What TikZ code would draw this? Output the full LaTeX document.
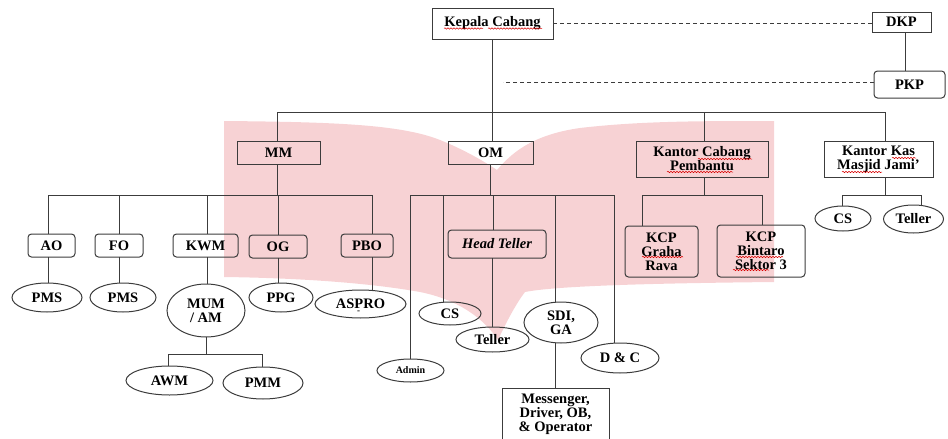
\documentclass[tikz,border=0pt]{standalone}
\usepackage{fontspec}
\setmainfont{Liberation Serif}
\usetikzlibrary{shapes.geometric,decorations.pathmorphing}
\definecolor{pinkbg}{RGB}{247,210,212}
\definecolor{ln}{RGB}{60,60,60}
\begin{document}
\begin{tikzpicture}[x=1pt,y=-1pt,
  every node/.style={inner sep=0pt, outer sep=0pt, align=center, font=\fontsize{14.5}{14}\selectfont\bfseries, text=black},
  sqbox/.style={draw=ln, line width=1pt, rectangle},
  rbox/.style={sqbox, rounded corners=3.5pt},
  ell/.style={draw=ln, line width=1pt, ellipse},
  conn/.style={draw=ln, line width=1pt},
  dash line/.style={conn, dash pattern=on 4pt off 3pt},
  squig/.style={draw=red!85!black, line width=0.5pt, decorate, decoration={snake, amplitude=0.7pt, segment length=3pt}}]
\useasboundingbox (0,0) rectangle (948,439);
\clip (0,0) rectangle (948,439);
% watermark
\fill[pinkbg] (224,121) .. controls (330,122) and (400,124) .. (440,140)
  .. controls (465,150) and (485,162) .. (497,170)
  .. controls (510,155) and (530,135) .. (580,128)
  .. controls (640,121) and (700,121) .. (774,121)
  -- (774,282) .. controls (680,283) and (560,285) .. (525,292)
  .. controls (515,305) and (505,325) .. (498,340)
  .. controls (485,320) and (460,300) .. (420,292)
  .. controls (370,283) and (300,278) .. (224,277) -- cycle;
% top level
\node[sqbox, minimum width=121pt, minimum height=31pt] (kc) at (492.5,23.5) {Kepala Cabang};
\node[sqbox, minimum width=59pt, minimum height=20pt] (dkp) at (901.5,22) {DKP};
\node[rbox, minimum width=71pt, minimum height=27pt] (pkp) at (909.5,84.5) {PKP};
\node[sqbox, minimum width=83pt, minimum height=23pt] (mm) at (278.5,152.5) {MM};
\node[sqbox, minimum width=85pt, minimum height=23pt] (om) at (490.5,152.5) {OM};
\node[sqbox, minimum width=132pt, minimum height=36pt] (kcp) at (702,159) {Kantor Cabang\\Pembantu};
\node[sqbox, minimum width=109pt, minimum height=36pt] (kk) at (878.5,159) {Kantor Kas\\Masjid Jami’};
% MM children
\node[rbox, minimum width=47pt, minimum height=23pt] (ao) at (51.5,245.5) {AO};
\node[rbox, minimum width=48pt, minimum height=23pt] (fo) at (119,245.5) {FO};
\node[rbox, minimum width=65pt, minimum height=23pt] (kwm) at (205.5,245.5) {KWM};
\node[rbox, minimum width=58pt, minimum height=23pt] (og) at (278,246.5) {OG};
\node[rbox, minimum width=52pt, minimum height=23pt] (pbo) at (367,245.5) {PBO};
\node[ell, minimum width=70pt, minimum height=29pt] (pms1) at (47,297.5) {PMS};
\node[ell, minimum width=66pt, minimum height=29pt] (pms2) at (123,297.5) {PMS};
\node[ell, minimum width=78pt, minimum height=53pt] (mum) at (206,310.5) {MUM\\/ AM};
\node[ell, minimum width=64pt, minimum height=29pt] (ppg) at (281,297.5) {PPG};
\node[ell, minimum width=91pt, minimum height=28pt] (aspro) at (360.5,304) {ASPRO\llap{\raisebox{-5pt}[0pt][0pt]{\fontsize{9}{9}\selectfont -}\hspace{25pt}}};
\node[ell, minimum width=87pt, minimum height=29pt] (awm) at (169.5,380.5) {AWM};
\node[ell, minimum width=80pt, minimum height=32pt] (pmm) at (263,383) {PMM};
% OM children
\node[rbox, minimum width=98pt, minimum height=28pt, font=\fontsize{14.5}{14}\selectfont\bfseries\itshape] (ht) at (497,244) {Head Teller};
\node[ell, minimum width=62pt, minimum height=23pt] (cs1) at (450,313.5) {CS};
\node[ell, minimum width=73pt, minimum height=25pt] (tel1) at (492.5,339.5) {Teller};
\node[ell, minimum width=74pt, minimum height=41pt] (sdi) at (561,322.5) {SDI,\\GA};
\node[ell, minimum width=78pt, minimum height=30pt] (dc) at (620,358) {D \& C};
\node[ell, minimum width=67pt, minimum height=23pt, font=\fontsize{10}{10}\selectfont\bfseries] (admin) at (410.5,370.5) {Admin};
\node[sqbox, minimum width=107pt, minimum height=53pt] (msg) at (555.5,414.5) {Messenger,\\Driver, OB,\\\& Operator};
% KCP children
\node[rbox, minimum width=73pt, minimum height=51pt] (kgr) at (661.5,251.5) {KCP\\Graha\\Rava};
\node[rbox, minimum width=88pt, minimum height=52pt] (kbs) at (761,251) {KCP\\Bintaro\\Sektor 3};
% Kantor Kas children
\node[ell, minimum width=56pt, minimum height=25pt] (cs2) at (843,218.5) {CS};
\node[ell, minimum width=60pt, minimum height=28pt] (tel2) at (913.5,219) {Teller};
% spell-check underlines
\draw[squig] (444,28.5) -- (483,28.5);
\draw[squig] (488,28.5) -- (542,28.5);
\draw[squig] (698,159) -- (752,159);
\draw[squig] (667,172) -- (733,172);
\draw[squig] (892,158) -- (916,158);
\draw[squig] (842,172) -- (882,172);
\draw[squig] (642,257) -- (683,257);
\draw[squig] (736,257) -- (783,257);
\draw[squig] (733,270) -- (769,270);
% connectors top
\draw[conn] (kc.south) -- (kc.south |- om.north);
\draw[conn] ([xshift=-1.5pt]mm.north) |- ([xshift=6.5pt]kk.north |- 0,112) -- ([xshift=6.5pt]kk.north);
\draw[conn] ([xshift=2pt]kcp.north) -- ([xshift=2pt]kcp.north |- 0,112);
\draw[dash line] (kc.east) -- (kc.east -| dkp.west);
\draw[conn] ([xshift=3.5pt]dkp.south) -- ([xshift=3.5pt]dkp.south |- pkp.north);
\coordinate (dl) at (503,82.5);
\draw[dash line] (pkp.west |- dl) -- (dl);
% MM subtree
\draw[conn] ([xshift=-1.5pt]mm.south) -- ([xshift=-1.5pt]mm.south |- 0,195);
\draw[conn] ([xshift=-3.5pt]ao.north) |- ([xshift=5pt]pbo.north |- 0,195) -- ([xshift=5pt]pbo.north);
\draw[conn] (fo.north) -- (fo.north |- 0,195);
\draw[conn] ([xshift=1.5pt]kwm.north) -- ([xshift=1.5pt]kwm.north |- 0,195);
\draw[conn] (og.north) -- (og.north |- 0,195);
\draw[conn] ([xshift=-3pt]ao.south) -- ([xshift=-3pt]ao.south |- pms1.north);
\draw[conn] (fo.south) -- (fo.south |- pms2.north);
\draw[conn] ([xshift=1.5pt]kwm.south) -- ([xshift=1.5pt]kwm.south |- mum.north);
\draw[conn] (og.south) -- (og.south |- ppg.north);
\draw[conn] ([xshift=5pt]pbo.south) -- ([xshift=5pt]pbo.south |- aspro.north);
\draw[conn] (mum.south) -- (mum.south |- 0,354);
\draw[conn] ([xshift=-1.5pt]awm.north) |- ([xshift=-1pt]pmm.north |- 0,354) -- ([xshift=-1pt]pmm.north);
% OM subtree
\draw[conn] (om.south) -- (om.south |- 0,195);
\draw[conn] (admin.north) |- ([xshift=-6pt]dc.north |- 0,195) -- ([xshift=-6pt]dc.north);
\draw[conn] ([xshift=-7pt]cs1.north) -- ([xshift=-7pt]cs1.north |- 0,195);
\draw[conn] ([xshift=-4pt]ht.north) -- ([xshift=-4pt]ht.north |- 0,195);
\draw[conn] ([xshift=-6pt]sdi.north) -- ([xshift=-6pt]sdi.north |- 0,195);
\draw[conn] (tel1.north) -- (tel1.north |- ht.south);
\draw[conn] (msg.north) -- (msg.north |- sdi.south);
% KCP subtree
\draw[conn] ([xshift=2pt]kcp.south) -- ([xshift=2pt]kcp.south |- 0,195);
\draw[conn] ([xshift=-19.5pt]kgr.north) |- ([xshift=1pt]kbs.north |- 0,195) -- ([xshift=1pt]kbs.north);
% Kantor Kas subtree
\draw[conn] ([xshift=6.5pt]kk.south) -- ([xshift=6.5pt]kk.south |- 0,195);
\draw[conn] ([xshift=-1pt]cs2.north) |- ([xshift=7.5pt]tel2.north |- 0,195) -- ([xshift=7.5pt]tel2.north);
\end{tikzpicture}
\end{document}
